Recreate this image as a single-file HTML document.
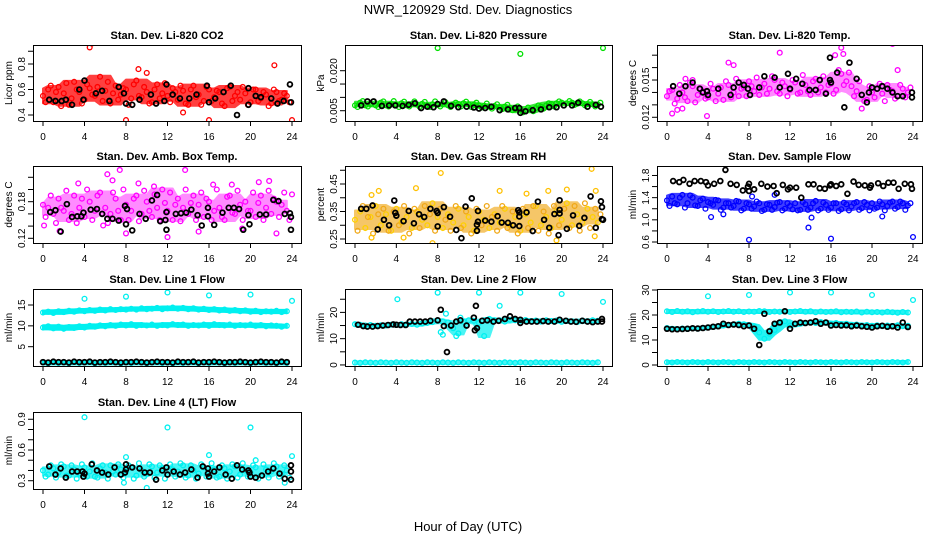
<!DOCTYPE html>
<html><head><meta charset="utf-8"><style>
html,body{margin:0;padding:0;background:#fff;}
svg{display:block;font-family:"Liberation Sans",Arial,sans-serif;}
</style></head><body>
<svg id="chart" width="936" height="540" viewBox="0 0 936 540">
<text x="468" y="14" text-anchor="middle" font-size="13">NWR_120929 Std. Dev. Diagnostics</text>
<text x="468" y="531" text-anchor="middle" font-size="13">Hour of Day (UTC)</text>
</svg>
<script>
// ---- data ----
const co2Band=[0.55,0.60,0.50,0.62,0.57,0.48,0.66,0.58,0.52,0.61,0.55,0.70,0.59,0.49,0.63,0.56,0.60,0.53,0.67,0.54,0.58,0.50,0.64,0.57,0.55,0.61,0.52,0.59,0.48,0.63,0.56,0.51,0.60,0.54,0.58,0.47,0.62,0.55,0.52,0.57,0.50,0.60,0.53,0.56,0.49,0.58,0.52,0.55];
const co2Band2=[0.50,0.63,0.58,0.47,0.65,0.53,0.60,0.49,0.64,0.56,0.62,0.51,0.66,0.57,0.52,0.61,0.48,0.64,0.55,0.62,0.49,0.60,0.53,0.65,0.50,0.58,0.63,0.49,0.60,0.54,0.48,0.62,0.51,0.59,0.49,0.61,0.51,0.58,0.62,0.48,0.60,0.51,0.58,0.47,0.60,0.51,0.57,0.50];
const co2OutHours=[4.5,4.7,8,9.2,10,22.3,24,13.5,16];
const co2Out=[0.93,0.96,0.36,0.76,0.73,0.79,0.36,0.42,0.36];
const co2BlackHours=[0.6,1.2,1.8,2.2,2.8,3.5,3.9,4.0,5.1,5.7,6.4,7.3,7.8,8.0,8.6,9.3,10.4,10.9,11.7,11.9,12.5,13.2,14.1,14.8,15.8,16.0,16.6,17.4,18.1,18.7,19.8,19.8,20.5,21.0,22.0,22.6,23.2,23.8,23.9];
const co2Black=[0.52,0.51,0.51,0.52,0.48,0.60,0.52,0.67,0.57,0.59,0.51,0.62,0.57,0.49,0.48,0.52,0.56,0.49,0.51,0.64,0.56,0.53,0.53,0.56,0.63,0.50,0.53,0.58,0.63,0.40,0.61,0.48,0.55,0.54,0.53,0.49,0.51,0.64,0.50];

const presBand=[0.0070,0.0080,0.0070,0.0075,0.0070,0.0080,0.0070,0.0075,0.0072,0.0078,0.0070,0.0075,0.0073,0.0076,0.0070,0.0074,0.0072,0.0075,0.0070,0.0073,0.0075,0.0078,0.0074,0.0072,0.0070,0.0068,0.0065,0.0068,0.0063,0.0065,0.0060,0.0055,0.0050,0.0048,0.0055,0.0060,0.0065,0.0070,0.0075,0.0078,0.0080,0.0078,0.0080,0.0076,0.0078,0.0075,0.0074,0.0073];
const presBand2=[0.0064,0.0086,0.0066,0.0084,0.0064,0.0085,0.0066,0.0086,0.0064,0.0084,0.0066,0.0085,0.0065,0.0083,0.0064,0.0085,0.0066,0.0082,0.0064,0.0080,0.0066,0.0084,0.0064,0.0080,0.0062,0.0077,0.0058,0.0074,0.0056,0.0072,0.0052,0.0066,0.0044,0.0062,0.0048,0.0070,0.0058,0.0078,0.0066,0.0085,0.0070,0.0086,0.0072,0.0085,0.0070,0.0083,0.0066,0.0080];
const presOutHours=[8,16,24];
const presOut=[0.0285,0.0263,0.0285];
const presBlackHours=[0.6,1.2,1.8,2.6,3.3,3.9,4.6,5.2,5.8,6.4,7.0,7.6,8.0,8.6,9.3,10,10.8,11.5,12,12.6,13.2,14,14.8,15.5,15.9,16,16.5,17.2,18,18.8,19.5,20.2,21,21.6,22.5,23.3,23.8];
const presBlack=[0.0070,0.0085,0.0085,0.0068,0.0070,0.0070,0.0068,0.0072,0.0078,0.0060,0.0065,0.0063,0.0075,0.0085,0.0068,0.0063,0.0065,0.0062,0.0058,0.0060,0.0065,0.0052,0.0055,0.0060,0.0060,0.0042,0.0048,0.0052,0.0055,0.0063,0.0063,0.0070,0.0070,0.0080,0.0065,0.0072,0.0065];

const tempBand=[0.0137,0.0142,0.0135,0.0140,0.0133,0.0145,0.0138,0.0141,0.0136,0.0143,0.0139,0.0134,0.0146,0.0140,0.0137,0.0144,0.0149,0.0141,0.0138,0.0147,0.0143,0.0150,0.0139,0.0145,0.0142,0.0148,0.0140,0.0146,0.0138,0.0151,0.0144,0.0140,0.0147,0.0142,0.0155,0.0149,0.0145,0.0141,0.0138,0.0134,0.0140,0.0143,0.0139,0.0146,0.0141,0.0137,0.0143,0.0140];
const tempBand2=[0.0141,0.0131,0.0146,0.0136,0.0148,0.0132,0.0143,0.0135,0.0147,0.0133,0.0144,0.0149,0.0136,0.0151,0.0143,0.0137,0.0145,0.0152,0.0144,0.0139,0.0153,0.0141,0.0148,0.0137,0.0150,0.0139,0.0154,0.0141,0.0149,0.0140,0.0153,0.0146,0.0139,0.0158,0.0146,0.0156,0.0137,0.0149,0.0133,0.0145,0.0136,0.0147,0.0133,0.0142,0.0135,0.0146,0.0136,0.0144];
const tempOutHours=[0.5,1,1.5,3.9,6,6.5,11,16.4,17,17.2,22,22.5,19,1.8,2.5];
const tempOut=[0.0123,0.0126,0.0127,0.0121,0.0164,0.0162,0.0172,0.0170,0.0176,0.0171,0.0179,0.0158,0.0127,0.0151,0.0150];
const tempBlackHours=[0.6,1.2,1.8,2.5,3.2,3.5,3.9,4,5,6.2,6.5,7,7.5,7.9,8.1,9,9.5,10.5,11,11.8,12,12.6,13.2,13.9,14.5,14.9,15.5,15.9,15.9,16,16.6,17.3,17.8,18.5,19,19.5,19.7,20,20.5,21,21.5,22,22.5,23,23.9,23.9];
const tempBlack=[0.0145,0.0139,0.0145,0.0148,0.0143,0.0140,0.0141,0.0138,0.0143,0.0138,0.0144,0.0148,0.0146,0.0143,0.0138,0.0144,0.0153,0.0152,0.0144,0.0155,0.0143,0.0151,0.0147,0.0142,0.0142,0.0150,0.0139,0.0150,0.0168,0.0148,0.0156,0.0128,0.0164,0.0151,0.0138,0.0132,0.0140,0.0144,0.0143,0.0145,0.0143,0.0140,0.0137,0.0137,0.0136,0.0140];

const boxBand=[0.175,0.17,0.16,0.185,0.165,0.15,0.19,0.17,0.155,0.18,0.165,0.195,0.17,0.16,0.185,0.15,0.175,0.165,0.19,0.16,0.18,0.155,0.17,0.2,0.165,0.15,0.185,0.17,0.16,0.19,0.175,0.155,0.18,0.165,0.17,0.15,0.19,0.16,0.175,0.18,0.165,0.155,0.19,0.17,0.16,0.18,0.175,0.165];
const boxBand2=[0.155,0.19,0.145,0.17,0.198,0.16,0.145,0.185,0.2,0.15,0.19,0.16,0.145,0.195,0.165,0.2,0.15,0.185,0.148,0.198,0.165,0.192,0.15,0.178,0.195,0.175,0.148,0.2,0.178,0.15,0.195,0.185,0.15,0.2,0.155,0.188,0.162,0.198,0.15,0.165,0.195,0.178,0.15,0.198,0.185,0.155,0.195,0.15];
const boxOutHours=[0.1,1.6,3.4,6.2,6.7,7.4,8,9.2,12,13.7,15,16.4,18.2,19.2,20.8,21.8,22.5,24,10.7,5.8];
const boxOut=[0.141,0.132,0.21,0.225,0.215,0.232,0.128,0.21,0.122,0.232,0.131,0.208,0.208,0.136,0.212,0.214,0.128,0.192,0.205,0.141];
const boxBlackHours=[0.7,1.2,1.7,2.3,2.8,3.3,3.7,3.9,4.6,5.2,5.7,6.2,6.7,7.3,7.9,8.0,8.1,8.6,9.3,9.9,10.5,11.0,11.3,11.8,11.9,11.9,12.8,13.3,13.8,14.3,14.9,15.3,15.9,15.9,16.5,17.3,17.9,18.4,18.9,19.3,19.8,19.9,20.9,21.5,22.2,22.7,23.3,23.8,23.9,23.9];
const boxBlack=[0.163,0.166,0.131,0.176,0.155,0.156,0.156,0.162,0.167,0.168,0.16,0.152,0.152,0.149,0.173,0.143,0.168,0.133,0.16,0.152,0.182,0.191,0.148,0.15,0.163,0.134,0.16,0.161,0.162,0.167,0.158,0.141,0.156,0.17,0.142,0.162,0.17,0.17,0.168,0.134,0.158,0.143,0.159,0.159,0.183,0.181,0.16,0.161,0.155,0.134];

const rhBand=[0.32,0.35,0.29,0.33,0.37,0.3,0.34,0.28,0.36,0.31,0.33,0.29,0.35,0.32,0.3,0.38,0.33,0.29,0.34,0.31,0.36,0.3,0.33,0.28,0.35,0.32,0.29,0.34,0.31,0.36,0.3,0.33,0.28,0.34,0.31,0.37,0.3,0.33,0.29,0.35,0.32,0.38,0.3,0.34,0.31,0.36,0.33,0.31];
const rhBand2=[0.28,0.37,0.33,0.27,0.34,0.36,0.28,0.35,0.3,0.37,0.27,0.36,0.29,0.37,0.34,0.28,0.36,0.32,0.28,0.37,0.29,0.35,0.27,0.36,0.3,0.37,0.33,0.28,0.37,0.29,0.35,0.27,0.36,0.29,0.37,0.28,0.35,0.27,0.37,0.3,0.36,0.29,0.37,0.28,0.38,0.29,0.36,0.34];
const rhOutHours=[1.6,2.3,5.9,8.3,7.5,14,16.6,18.7,20.5,22.9,23.3,4.7,1.6,19.5,23.2];
const rhOut=[0.41,0.425,0.435,0.49,0.235,0.425,0.415,0.425,0.43,0.505,0.425,0.255,0.255,0.245,0.26];
const rhBlackHours=[0.6,1.1,1.7,2.2,2.8,3.3,3.8,3.9,4.0,4.7,5.2,5.7,6.2,6.7,7.3,7.9,8.0,8.0,8.6,9.2,9.8,10.3,10.7,11.3,11.8,11.8,11.9,11.9,12.6,13.2,13.8,14.2,14.8,15.3,15.8,15.9,15.9,15.9,16.6,17.2,17.7,18.3,18.8,19.3,19.7,19.8,19.8,19.8,20.5,21.1,21.7,22.2,22.8,23.3,23.8,23.9,23.9,24];
const rhBlack=[0.36,0.36,0.372,0.285,0.32,0.30,0.39,0.345,0.335,0.315,0.352,0.307,0.34,0.33,0.36,0.352,0.345,0.296,0.366,0.331,0.283,0.253,0.368,0.398,0.28,0.302,0.352,0.313,0.317,0.313,0.333,0.31,0.309,0.3,0.355,0.347,0.332,0.297,0.347,0.279,0.386,0.32,0.291,0.341,0.264,0.391,0.356,0.343,0.287,0.336,0.298,0.327,0.405,0.291,0.387,0.366,0.322,0.32];

const flowBand=[1.35,1.42,1.28,1.45,1.3,1.4,1.25,1.38,1.32,1.27,1.35,1.22,1.3,1.25,1.33,1.2,1.28,1.24,1.3,1.18,1.27,1.23,1.32,1.2,1.25,1.3,1.18,1.28,1.22,1.34,1.2,1.27,1.22,1.3,1.19,1.28,1.24,1.32,1.21,1.27,1.3,1.22,1.28,1.25,1.33,1.23,1.3,1.26];
const flowBand2=[1.25,1.3,1.4,1.22,1.44,1.26,1.35,1.2,1.3,1.36,1.18,1.3,1.22,1.34,1.17,1.3,1.2,1.33,1.16,1.28,1.18,1.31,1.17,1.3,1.19,1.17,1.32,1.18,1.3,1.17,1.31,1.18,1.3,1.16,1.31,1.17,1.3,1.18,1.32,1.17,1.2,1.33,1.17,1.31,1.2,1.33,1.18,1.3];
const flowOutHours=[4.3,5.5,8,13.8,14.1,16,21,24,10.5,8.3];
const flowOut=[1.05,1.1,0.64,0.86,1.04,0.66,1.06,0.69,1.45,1.42];
const flowBlackHours=[0.6,1.2,1.6,2.2,2.7,3.3,3.8,4.0,4.6,5.2,5.7,6.2,6.8,7.4,7.9,8.0,8.0,8.5,9.2,9.8,10.4,10.7,11.3,11.8,12.0,12.6,13.1,13.8,14.3,14.9,15.4,15.9,16.0,16.5,17.0,17.6,18.2,18.7,19.3,19.8,19.9,20.6,21.1,21.6,22.1,22.6,23.2,23.8,23.9];
const flowBlack=[1.70,1.68,1.72,1.65,1.70,1.70,1.68,1.62,1.65,1.70,1.90,1.65,1.63,1.53,1.60,1.65,1.52,1.55,1.65,1.60,1.61,1.48,1.63,1.55,1.58,1.58,1.40,1.64,1.64,1.57,1.56,1.62,1.64,1.61,1.64,1.47,1.69,1.63,1.62,1.58,1.62,1.66,1.61,1.67,1.67,1.56,1.65,1.64,1.56];

const l1BandHigh=[13.2,13.4,13.1,13.5,13.3,13.6,13.4,13.7,13.5,13.8,13.6,13.9,13.7,14.0,13.8,14.0,13.9,14.1,13.9,14.2,14.0,14.1,14.3,14.0,14.2,14.4,14.1,14.3,14.0,14.2,13.9,14.1,13.8,14.0,13.7,13.9,13.6,13.8,13.5,13.7,13.4,13.6,13.3,13.5,13.4,13.6,13.3,13.5];
const l1BandMid=[9.6,9.9,9.4,9.8,9.3,9.7,9.5,9.9,9.6,10.0,9.8,10.1,9.9,10.2,10.0,10.3,10.1,10.4,10.0,10.2,10.1,10.3,10.0,10.2,10.1,10.4,10.2,10.3,10.0,10.2,10.1,10.3,10.0,10.4,10.2,10.1,10.3,10.0,10.2,10.1,10.3,10.0,10.2,9.9,10.1,10.0,9.8,10.0];
const l1BandLow=[1.2,1.0,1.3,1.1,1.2,1.0,1.3,1.1,1.2,1.3,1.0,1.2,1.1,1.3,1.2,1.0,1.2,1.1,1.3,1.2,1.0,1.2,1.3,1.1,1.2,1.0,1.3,1.1,1.2,1.3,1.0,1.2,1.1,1.3,1.2,1.0,1.2,1.1,1.3,1.2,1.0,1.2,1.3,1.1,1.2,1.0,1.3,1.1];
const l1OutHours=[4,8,12,16,20,24];
const l1Out=[16.5,17,18,17.3,17.5,16];
const l1Black=[1.3,1.2,1.4,1.3,1.3,1.2,1.4,1.3,1.3,1.4,1.2,1.3,1.3,1.4,1.3,1.2,1.3,1.3,1.4,1.3,1.2,1.3,1.4,1.3,1.3,1.2,1.4,1.3,1.3,1.4,1.2,1.3,1.3,1.4,1.3,1.2,1.3,1.3,1.4,1.3,1.2,1.3,1.4,1.3,1.3,1.2,1.4,1.3];

const l2BandMain=[15.5,15.3,15.0,15.2,14.9,15.1,15.0,15.3,15.2,15.5,15.4,15.6,15.3,15.8,16.0,16.3,17.0,16.5,16.2,14.0,12.0,16.5,17.0,16.8,16.0,11.0,17.5,16.8,17.0,16.5,17.2,17.0,16.8,17.1,16.6,16.9,16.5,17.0,16.7,16.9,16.4,16.8,16.6,16.3,16.9,16.5,17.0,16.8];
const l2BandLow=[0.9,0.8,1.0,0.9,0.8,1.0,0.9,0.8,1.0,0.9,0.8,1.0,0.9,0.8,1.0,0.9,0.8,1.0,0.9,0.8,1.0,0.9,0.8,1.0,0.9,0.8,1.0,0.9,0.8,1.0,0.9,0.8,1.0,0.9,0.8,1.0,0.9,0.8,1.0,0.9,0.8,1.0,0.9,0.8,1.0,0.9,0.8,1.0];
const l2OutHours=[4.1,8,12,16,20,24,8.3,8.5,8.8,9.8,10.2,14];
const l2Out=[25,27.5,27.5,27.5,27,24,12.5,11.5,19.5,11,18,22.5];
const l2BlackHours=[0.3,0.8,1.2,1.7,2.2,2.7,3.2,3.7,4.0,4.4,4.9,5.3,5.8,6.3,6.8,7.3,8.3,8,8.6,8.9,9.3,9.8,10.2,10.8,11.7,11.5,11.6,11.8,12.3,12.8,13.4,13.9,14.5,15,15.5,16,16,16.6,17.1,17.6,18.2,18.7,19.3,19.8,20.4,20.9,21.4,22,22.5,23,23.5,23.9,23.9];
const l2Black=[15.3,14.8,14.6,14.6,14.8,15,15.2,15.4,15.3,15.2,15.2,16.5,16.5,16.5,16.5,16.8,21,17,14.8,4.9,15,16.5,17,15,22.5,18,13.2,14,16.8,17,16.5,16.8,17.5,18.5,17.5,17.2,16,16.5,16.5,16.5,16.7,16.5,16.5,17.2,16.8,16.5,16.4,16.8,16.5,16.3,16.5,17.5,16.5];

const l3BandHigh=[21.5,21.2,21.6,21.3,21.5,21.1,21.4,21.6,21.3,21.5,21.2,21.4,21.6,21.3,21.5,21.2,21.4,21.3,21.6,21.5,21.2,21.4,21.3,21.5,21.2,21.4,21.6,21.3,21.5,21.1,21.4,21.2,21.3,21.5,21.1,21.3,21.2,21.4,21.0,21.3,21.1,21.2,21.0,21.3,21.1,20.9,21.2,21.0];
const l3BandMid=[14.8,14.5,14.3,14.6,14.4,14.7,14.5,14.8,15.0,15.2,15.5,15.8,16.0,16.2,16.5,16.3,16.0,15.5,13.0,10.5,12.5,14.0,16.5,17.5,15.8,16.2,16.5,16.8,17.0,16.8,17.2,17.0,16.5,16.8,16.3,16.5,16.0,16.2,15.8,16.0,15.7,15.9,15.5,15.8,15.6,15.9,15.5,15.7];
const l3BandLow=[1.1,1.0,1.2,1.1,1.0,1.2,1.1,1.0,1.2,1.1,1.0,1.2,1.1,1.0,1.2,1.1,1.0,1.2,1.1,1.0,1.2,1.1,1.0,1.2,1.1,1.0,1.2,1.1,1.0,1.2,1.1,1.0,1.2,1.1,1.0,1.2,1.1,1.0,1.2,1.1,1.0,1.2,1.1,1.0,1.2,1.1,1.0,1.2];
const l3OutHours=[4,8,12,16,20,24];
const l3Out=[27.5,28,29,29,28,26];
const l3Black=[14.5,14.3,14.3,14.4,14.5,14.7,14.6,14.8,15.0,15.3,15.5,16.5,16.0,16.2,16.0,15.5,15.8,14.5,8.0,20.5,13.5,16.5,17.0,21.5,14.5,16.5,17.0,16.8,17.0,17.5,16.5,17.0,15.8,16.0,15.8,15.9,15.5,15.8,15.5,15.3,15.0,15.5,15.7,15.3,15.5,15.0,17.0,15.2];

const l4Band=[0.40,0.36,0.42,0.38,0.44,0.35,0.41,0.37,0.43,0.39,0.34,0.42,0.38,0.45,0.36,0.41,0.39,0.43,0.35,0.40,0.37,0.44,0.38,0.42,0.36,0.41,0.39,0.45,0.35,0.40,0.37,0.43,0.38,0.41,0.34,0.42,0.39,0.44,0.36,0.40,0.38,0.43,0.35,0.41,0.39,0.44,0.37,0.40];
const l4Band2=[0.34,0.45,0.33,0.46,0.35,0.45,0.32,0.46,0.34,0.47,0.33,0.45,0.32,0.39,0.46,0.33,0.45,0.32,0.47,0.34,0.46,0.33,0.45,0.32,0.46,0.34,0.47,0.33,0.45,0.32,0.46,0.34,0.47,0.33,0.45,0.32,0.46,0.33,0.47,0.34,0.45,0.32,0.46,0.33,0.47,0.34,0.45,0.33];
const l4OutHours=[4,12,20,24,16,8,20.5,10,23.3,7.8];
const l4Out=[0.92,0.82,0.82,0.54,0.55,0.53,0.5,0.23,0.28,0.28];
const l4BlackHours=[0.6,1.2,1.7,2.2,2.8,3.3,3.8,3.9,4.0,4.7,5.2,5.7,6.3,6.9,7.5,7.9,8.0,8.0,8.6,9.3,9.8,10.3,10.9,11.5,11.9,12.0,12.6,13.2,13.7,14.3,14.9,15.4,15.9,15.9,16.0,16.5,17.0,17.6,18.2,18.7,19.2,19.8,19.9,20.0,20.5,21.1,21.7,22.2,22.8,23.3,23.9,23.9,23.9];
const l4Black=[0.44,0.36,0.42,0.33,0.39,0.39,0.39,0.34,0.37,0.46,0.40,0.38,0.36,0.43,0.36,0.38,0.46,0.41,0.43,0.42,0.38,0.38,0.31,0.40,0.43,0.36,0.39,0.36,0.38,0.41,0.33,0.44,0.42,0.37,0.34,0.39,0.43,0.36,0.32,0.45,0.41,0.40,0.38,0.34,0.33,0.35,0.39,0.42,0.37,0.32,0.45,0.39,0.31];

const halfHours=[0,0.5,1,1.5,2,2.5,3,3.5,4,4.5,5,5.5,6,6.5,7,7.5,8,8.5,9,9.5,10,10.5,11,11.5,12,12.5,13,13.5,14,14.5,15,15.5,16,16.5,17,17.5,18,18.5,19,19.5,20,20.5,21,21.5,22,22.5,23,23.5];
const quarterHours=[0.25,0.75,1.25,1.75,2.25,2.75,3.25,3.75,4.25,4.75,5.25,5.75,6.25,6.75,7.25,7.75,8.25,8.75,9.25,9.75,10.25,10.75,11.25,11.75,12.25,12.75,13.25,13.75,14.25,14.75,15.25,15.75,16.25,16.75,17.25,17.75,18.25,18.75,19.25,19.75,20.25,20.75,21.25,21.75,22.25,22.75,23.25,23.75];
const xTicks=[0,4,8,12,16,20,24];

// ---- layout ----
const colX=[[33,301],[345,612],[657,922]];
const rowY=[[45,121],[166,243],[289,366],[412,489]];
const RED='#ff0000',GRN='#00e000',MAG='#ff00ff',ORG='#f0a818',BLU='#0000ff',CYN='#00f0f0',BLK='#000000';

const panels=[
 {t:'Stan. Dev. Li-820 CO2',yl:'Licor ppm',c:0,r:0,ylim:[0.353,0.949],ticks:[0.4,0.5,0.6,0.7,0.8,0.9],labs:['0.4','0.6','0.8'],op:0.75,
  s:[{band:co2Band,col:RED},{h:quarterHours,v:co2Band2,col:RED},{h:co2OutHours,v:co2Out,col:RED},{h:co2BlackHours,v:co2Black,col:BLK}]},
 {t:'Stan. Dev. Li-820 Pressure',yl:'kPa',c:1,r:0,ylim:[0.00114,0.02964],ticks:[0.005,0.01,0.015,0.02],labs:['0.005','0.020'],op:0.75,
  s:[{band:presBand,col:GRN},{h:quarterHours,v:presBand2,col:GRN},{h:presOutHours,v:presOut,col:GRN},{h:presBlackHours,v:presBlack,col:BLK}]},
 {t:'Stan. Dev. Li-820 Temp.',yl:'degrees C',c:2,r:0,ylim:[0.0117,0.01782],ticks:[0.012,0.013,0.014,0.015,0.016,0.017],labs:['0.012','0.015'],op:0.45,
  s:[{band:tempBand,col:MAG},{h:quarterHours,v:tempBand2,col:MAG},{h:tempOutHours,v:tempOut,col:MAG},{h:tempBlackHours,v:tempBlack,col:BLK}]},
 {t:'Stan. Dev. Amb. Box Temp.',yl:'degrees C',c:0,r:1,ylim:[0.1123,0.2385],ticks:[0.12,0.14,0.16,0.18,0.2,0.22],labs:['0.12','0.18'],op:0.45,
  s:[{band:boxBand,col:MAG},{h:quarterHours,v:boxBand2,col:MAG},{h:boxOutHours,v:boxOut,col:MAG},{h:boxBlackHours,v:boxBlack,col:BLK}]},
 {t:'Stan. Dev. Gas Stream RH',yl:'percent',c:1,r:1,ylim:[0.2355,0.5155],ticks:[0.25,0.3,0.35,0.4,0.45,0.5],labs:['0.25','0.35','0.45'],op:0.65,
  s:[{band:rhBand,col:ORG,pt:'#ffd000'},{h:quarterHours,v:rhBand2,col:'#f0a818'},{h:rhOutHours,v:rhOut,col:'#ffc000'},{h:rhBlackHours,v:rhBlack,col:BLK}]},
 {t:'Stan. Dev. Sample Flow',yl:'ml/min',c:2,r:1,ylim:[0.582,1.971],ticks:[0.6,0.8,1.0,1.2,1.4,1.6,1.8],labs:['0.6','1.0','1.4','1.8'],op:0.75,
  s:[{band:flowBand,col:BLU},{h:quarterHours,v:flowBand2,col:BLU},{h:flowOutHours,v:flowOut,col:BLU},{h:flowBlackHours,v:flowBlack,col:BLK}]},
 {t:'Stan. Dev. Line 1 Flow',yl:'ml/min',c:0,r:2,ylim:[0.37,18.84],ticks:[5,10,15],labs:['5','10','15'],op:1,
  s:[{band:l1BandHigh,col:CYN},{band:l1BandMid,col:CYN},{band:l1BandLow,col:CYN},{h:l1OutHours,v:l1Out,col:CYN},{h:halfHours,v:l1Black,col:BLK}]},
 {t:'Stan. Dev. Line 2 Flow',yl:'ml/min',c:1,r:2,ylim:[-0.4,28.9],ticks:[0,5,10,15,20,25],labs:['0','10','20'],op:0.7,
  s:[{band:l2BandLow,col:CYN},{band:l2BandMain,col:CYN,win:1},{h:l2OutHours,v:l2Out,col:CYN},{h:l2BlackHours,v:l2Black,col:BLK}]},
 {t:'Stan. Dev. Line 3 Flow',yl:'ml/min',c:2,r:2,ylim:[-0.4,30.4],ticks:[0,5,10,15,20,25,30],labs:['0','10','20','30'],op:0.85,
  s:[{band:l3BandHigh,col:CYN},{band:l3BandLow,col:CYN},{band:l3BandMid,col:CYN,win:1},{h:l3OutHours,v:l3Out,col:CYN},{h:halfHours,v:l3Black,col:BLK}]},
 {t:'Stan. Dev. Line 4 (LT) Flow',yl:'ml/min',c:0,r:3,ylim:[0.219,0.971],ticks:[0.3,0.4,0.5,0.6,0.7,0.8,0.9],labs:['0.3','0.6','0.9'],op:0.7,
  s:[{band:l4Band,col:CYN},{h:quarterHours,v:l4Band2,col:CYN},{h:l4OutHours,v:l4Out,col:CYN},{h:l4BlackHours,v:l4Black,col:BLK}]}
];

const NS='http://www.w3.org/2000/svg';
const svg=document.getElementById('chart');
function mk(tag,attrs,parent){const e=document.createElementNS(NS,tag);for(const k in attrs)e.setAttribute(k,attrs[k]);parent.appendChild(e);return e;}

panels.forEach((p,pi)=>{
  const [x0,x1]=colX[p.c],[y0,y1]=rowY[p.r];
  const xs=h=>x0+10+h/24*(x1-x0-19);
  const ys=v=>y1-(v-p.ylim[0])/(p.ylim[1]-p.ylim[0])*(y1-y0);
  const g=mk('g',{},svg);
  
  
  const clipId='clip'+pi;
  const cp=mk('clipPath',{id:clipId},g);mk('rect',{x:x0,y:y0,width:x1-x0,height:y1-y0},cp);
  const title=mk('text',{x:(x0+x1)/2,y:y0-6,'text-anchor':'middle','font-size':11,'font-weight':'bold'},g);
  title.textContent=p.t;
  
  
  const yt=mk('text',{x:x0-21,y:(y0+y1)/2,'text-anchor':'middle','font-size':10,transform:`rotate(-90 ${x0-21} ${(y0+y1)/2})`},g);
  yt.textContent=p.yl;
  
  
  const xa=mk('g',{stroke:'#000','stroke-width':1},g);
  
  
  mk('line',{x1:xs(0),x2:xs(24),y1:y1+0.5,y2:y1+0.5},xa);
  xTicks.forEach(t=>{
    mk('line',{x1:xs(t),x2:xs(t),y1:y1,y2:y1+5},xa);
    const tx=mk('text',{x:xs(t),y:y1+19,'text-anchor':'middle','font-size':10,stroke:'none',fill:'#000'},g);
    tx.textContent=t;
    
    
  });
  const ya=mk('g',{stroke:'#000','stroke-width':1},g);
  
  
  p.ticks.forEach(t=>{mk('line',{x1:x0-5,x2:x0,y1:ys(t),y2:ys(t)},ya);});
  p.labs.forEach(l=>{
    const yy=ys(parseFloat(l));
    const tx=mk('text',{x:x0-8,y:yy,'text-anchor':'middle','font-size':10,transform:`rotate(-90 ${x0-8} ${yy})`},g);
    tx.textContent=l;
    
    
  });
  const plot=mk('g',{'clip-path':`url(#${clipId})`},g);
  p.s.forEach(s=>{
    const hs=s.h||halfHours, vs=s.band||s.v;
    if(s.band){
      const wn=s.win||2;
      const up=[],lo=[];
      for(let i=0;i<vs.length;i++){const w=vs.slice(Math.max(0,i-wn),i+wn+1);up.push(Math.max(...w));lo.push(Math.min(...w));}
      let d='M'+hs.map((h,i)=>xs(h)+','+(ys(up[i])-1)).join('L');
      d+='L'+hs.map((h,i)=>xs(h)+','+(ys(lo[i])+1)).reverse().join('L')+'Z';
      const env=mk('path',{d:d,fill:s.col,stroke:s.col,'stroke-width':2,'stroke-linejoin':'round',opacity:p.op},plot);
      
      
    }
    hs.forEach((h,i)=>{
      const c=mk('circle',{cx:xs(h),cy:ys(vs[i]),r:2.4,fill:'none',stroke:s.pt||s.col,'stroke-width':s.col===BLK?1.8:1.3},plot);
      
      
    });
  });
  const box=mk('rect',{x:x0+0.5,y:y0+0.5,width:x1-x0,height:y1-y0,fill:'none',stroke:'#000','stroke-width':1},g);
  
  
});
</script>
</body></html>
